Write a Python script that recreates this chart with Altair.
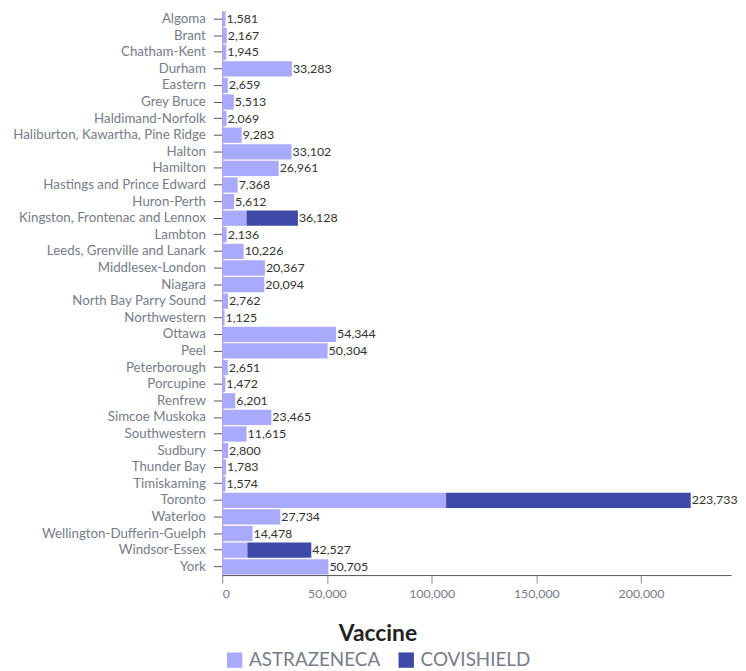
import altair as alt
import pandas as pd

regions = ["Algoma", "Brant", "Chatham-Kent", "Durham", "Eastern", "Grey Bruce",
           "Haldimand-Norfolk", "Haliburton, Kawartha, Pine Ridge", "Halton", "Hamilton",
           "Hastings and Prince Edward", "Huron-Perth", "Kingston, Frontenac and Lennox",
           "Lambton", "Leeds, Grenville and Lanark", "Middlesex-London", "Niagara",
           "North Bay Parry Sound", "Northwestern", "Ottawa", "Peel", "Peterborough",
           "Porcupine", "Renfrew", "Simcoe Muskoka", "Southwestern", "Sudbury",
           "Thunder Bay", "Timiskaming", "Toronto", "Waterloo", "Wellington-Dufferin-Guelph",
           "Windsor-Essex", "York"]
astrazeneca = [1581, 2167, 1945, 33283, 2659, 5513, 2069, 9283, 33102, 26961,
               7368, 5612, 11600, 2136, 10226, 20367, 20094, 2762, 1125, 54344,
               50304, 2651, 1472, 6201, 23465, 11615, 2800, 1783, 1574, 106900,
               27734, 14478, 12000, 50705]
covishield = [0, 0, 0, 0, 0, 0, 0, 0, 0, 0,
              0, 0, 24528, 0, 0, 0, 0, 0, 0, 0,
              0, 0, 0, 0, 0, 0, 0, 0, 0, 116833,
              0, 0, 30527, 0]
vaccines = ["ASTRAZENECA", "COVISHIELD"]
colors = ["#a9aafb", "#3f49a8"]
x_ticks = [0, 50000, 100000, 150000, 200000]

rows = []
for r, a, c in zip(regions, astrazeneca, covishield):
    rows.append({"Region": r, "Vaccine": "ASTRAZENECA", "Doses": a, "ord": 0})
    if c > 0:
        rows.append({"Region": r, "Vaccine": "COVISHIELD", "Doses": c, "ord": 1})
df = pd.DataFrame(rows)
tot = pd.DataFrame({"Region": regions,
                    "Total": [a + c for a, c in zip(astrazeneca, covishield)]})

FONT = "Lato"
LABEL_COLOR = "#777c89"
y_enc = alt.Y("Region:N", sort=regions, title=None,
              scale=alt.Scale(paddingInner=0.08, paddingOuter=0.04),
              axis=alt.Axis(labelFont=FONT, labelFontSize=13.4, labelColor=LABEL_COLOR,
                            labelLimit=400,
                            tickColor="#555", tickSize=9, labelPadding=8,
                            domainColor="#888", minExtent=214, maxExtent=214))
x_scale = alt.Scale(domain=[0, 243000], nice=False)

bars = alt.Chart(df).mark_bar(strokeWidth=0).encode(
    x=alt.X("Doses:Q", stack="zero", scale=x_scale, title=None,
            axis=alt.Axis(values=x_ticks, format=",d",
                          grid=False, labelFont=FONT, labelFontSize=12.5,
                          labelColor=LABEL_COLOR, tickColor="#888", tickSize=8,
                          labelPadding=5, domainColor="#555", labelFlush=True)),
    y=y_enc,
    color=alt.Color("Vaccine:N", scale=alt.Scale(domain=vaccines, range=colors),
                    legend=alt.Legend(orient="none", legendX=3, legendY=617,
                                      direction="horizontal", title="Vaccine",
                                      titleFont=FONT, titleFontSize=23,
                                      titleFontWeight="bold", titleColor="#222",
                                      titleAnchor="middle", titlePadding=5,
                                      labelFont=FONT, labelFontSize=19,
                                      labelColor=LABEL_COLOR, symbolType="square",
                                      symbolSize=240, symbolStrokeWidth=0,
                                      symbolOpacity=1, columnPadding=16,
                                      labelOffset=5)),
    order=alt.Order("ord:Q"),
)

labels = alt.Chart(tot).mark_text(align="left", baseline="middle", dx=1,
                                  font=FONT, fontSize=12.5, color="#333").encode(
    x=alt.X("Total:Q", scale=x_scale),
    y=alt.Y("Region:N", sort=regions),
    text=alt.Text("Total:Q", format=",d"),
)

chart = alt.layer(bars, labels).properties(
    width=513, height=569,
    padding={"left": 2, "top": 0, "right": 0, "bottom": 0},
).configure_view(stroke=None)

chart.save("out.html", embed_options={"renderer": "svg", "actions": False})
